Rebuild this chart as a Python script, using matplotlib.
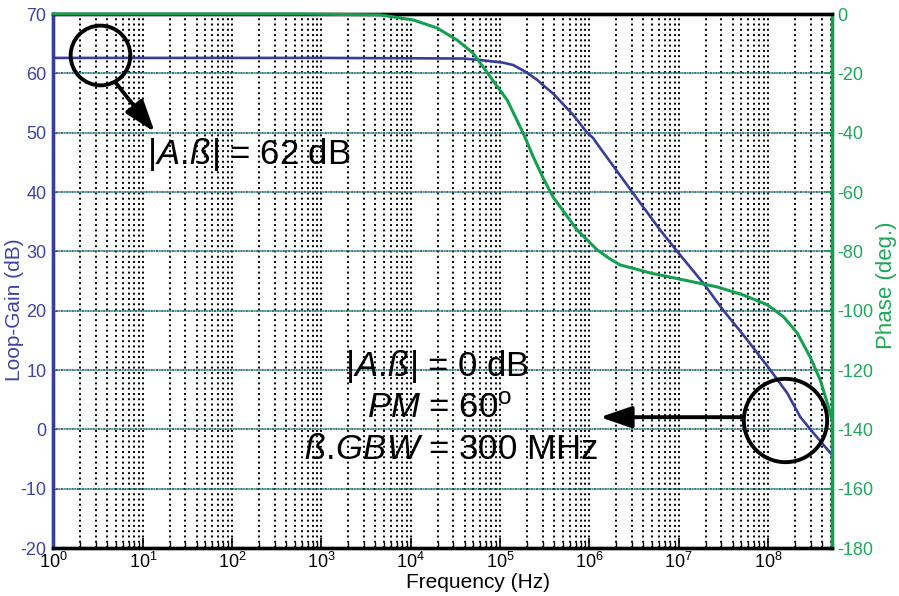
import matplotlib
matplotlib.use("Agg")
import matplotlib.pyplot as plt
from matplotlib.ticker import LogLocator, NullFormatter, MultipleLocator

plt.rcParams.update({
    "font.family": ["Liberation Sans", "DejaVu Sans"],
    "font.size": 12,
    "mathtext.fontset": "custom",
    "mathtext.rm": "Liberation Sans",
    "mathtext.it": "Liberation Sans:italic",
    "mathtext.bf": "Liberation Sans:bold",
    "lines.scale_dashes": False,
    "axes.unicode_minus": False,
})

BLUE = "#393d98"
GREEN = "#14a050"
BLUE_TXT = "#40449e"
GREEN_TXT = "#1ea85a"

# ── Data ──────────────────────────────────────────────────────────────────────
gain_freq = [1, 1e3, 3.86e4, 5.97e4, 1.08e5, 1.40e5, 1.91e5, 2.60e5, 3.03e5,
             3.92e5, 6.57e5, 9.42e5, 1.10e6, 1.25e6, 3.08e6, 6.19e6, 9.59e6,
             1.87e7, 3.14e7, 5.83e7, 1.06e8, 1.64e8, 2.29e8, 3.21e8, 5.2e8]
gain_db = [62.6, 62.6, 62.5, 62.25, 61.8, 61.4, 60.3, 58.9, 58.0,
           56.6, 53.0, 50.0, 49.1, 47.9, 39.8, 33.6, 30.0,
           24.7, 20.1, 15.1, 10.0, 6.1, 2.1, -0.6, -4.3]

phase_freq = [1, 575, 4.53e3, 1.06e4, 1.97e4, 3.30e4, 4.99e4, 7.73e4, 1.20e5,
              1.81e5, 2.34e5, 3.03e5, 3.92e5, 7.28e5, 1.22e6, 1.71e6, 2.21e6,
              3.25e6, 4.79e6, 1.12e7, 2.70e7, 5.27e7, 9.79e7, 1.48e8, 2.12e8,
              2.96e8, 3.84e8, 4.59e8, 5.2e8]
phase_deg = [0, 0, -0.3, -2, -4.7, -8.8, -13.2, -21.1, -29,
             -40.1, -48, -55.3, -61.7, -72.8, -79.5, -82.6, -84.6,
             -85.9, -87.3, -89.6, -92, -94.7, -98, -102, -107.5,
             -115.6, -123.4, -131, -136.8]

F_MIN, F_MAX = 1, 5.2e8
GAIN_LIM = (-20, 70)
PHASE_LIM = (-180, 0)

# annotation positions (axes fraction)
CIRCLE_TL = (0.0597, 0.923)
CIRCLE_BR = (0.939, 0.240)
ARROW_TL = ((0.079, 0.873), (0.130, 0.779))
ARROW_BR = ((0.886, 0.245), (0.702, 0.245))

# ── Figure ────────────────────────────────────────────────────────────────────
fig = plt.figure(figsize=(8.99, 5.96), dpi=100)
ax = fig.add_axes([0.0595, 0.0805, 0.866, 0.896])
ax2 = ax.twinx()

ax.set_xscale("log")
ax.set_xlim(F_MIN, F_MAX)
ax.set_ylim(*GAIN_LIM)
ax2.set_ylim(*PHASE_LIM)

# grids
ax.xaxis.set_major_locator(LogLocator(base=10, numticks=20))
ax.xaxis.set_minor_locator(LogLocator(base=10, subs=range(2, 10), numticks=200))
ax.xaxis.set_minor_formatter(NullFormatter())
ax.yaxis.set_major_locator(MultipleLocator(10))
ax2.yaxis.set_major_locator(MultipleLocator(20))
ax.grid(which="both", axis="x", color="black", ls=(0, (1.4, 2.4)), lw=1.4)
ax.grid(which="major", axis="y", color=GREEN, ls=(0, (1.6, 2.2)), lw=1.2)
ax2.grid(which="major", axis="y", color=BLUE, ls=(1.9, (1.6, 2.2)), lw=1.2)

# curves
ax.plot(gain_freq, gain_db, color=BLUE, lw=1.9, zorder=3)
ax2.plot(phase_freq, phase_deg, color=GREEN, lw=2.2, zorder=4, clip_on=False)

# spines
for a in (ax, ax2):
    a.spines["top"].set_color("black")
    a.spines["bottom"].set_color("black")
    a.spines["left"].set_color(BLUE)
    a.spines["right"].set_color(GREEN)
    for s in a.spines.values():
        s.set_linewidth(2.4)

# ticks
ax.tick_params(axis="x", which="major", direction="in", length=7, width=1.2,
               colors="black", labelsize=13, pad=3)
ax.tick_params(axis="x", which="minor", direction="in", length=4, width=1.0)
ax.tick_params(axis="y", direction="in", length=3, color=GREEN,
               labelcolor=BLUE_TXT, labelsize=13, pad=5)
ax2.tick_params(axis="y", direction="in", length=6, width=1.2, color=GREEN,
                labelcolor=GREEN_TXT, labelsize=13, pad=4)

ax.set_xlabel("Frequency (Hz)", fontsize=15)
ax.xaxis.set_label_coords(0.545, -0.047)
ax.set_ylabel("Loop-Gain (dB)", color=BLUE_TXT, fontsize=15)
ax.yaxis.set_label_coords(-0.038, 0.446)
ax2.set_ylabel("Phase (deg.)", color=GREEN_TXT, fontsize=16)
ax2.yaxis.set_label_coords(1.056, 0.4925)

# circles and arrows
for (cx, cy), ms in ((CIRCLE_TL, 43), (CIRCLE_BR, 60)):
    ax2.plot(cx, cy, "o", ms=ms, mfc="none", mec="black", mew=2.8,
             transform=ax.transAxes, zorder=6)
for start, tip in (ARROW_TL, ARROW_BR):
    ax2.annotate("", xy=tip, xycoords="axes fraction", xytext=start,
                 textcoords="axes fraction",
                 arrowprops=dict(arrowstyle="-|>,head_length=1.6,head_width=0.55",
                                 lw=2.8, color="black", shrinkA=0, shrinkB=0),
                 zorder=6)

# labels
ax2.text(0.12, 0.737, r"$|\mathit{A.\!ß}|$ = 62 dB", transform=ax.transAxes,
         fontsize=25, ha="left", va="center", zorder=7)
ax2.text(0.493, 0.339, r"$|\mathit{A.\!ß}|$ = 0 dB", transform=ax.transAxes,
         fontsize=25, ha="center", va="center", zorder=7)
ax2.text(0.496, 0.262, r"$\mathit{PM}$ = 60$^{\rm o}$", transform=ax.transAxes,
         fontsize=25, ha="center", va="center", zorder=7)
ax2.text(0.511, 0.184, r"$\mathit{ß.\!GBW}$ = 300 MHz", transform=ax.transAxes,
         fontsize=25, ha="center", va="center", zorder=7)

fig.savefig("out.png", dpi=100)
